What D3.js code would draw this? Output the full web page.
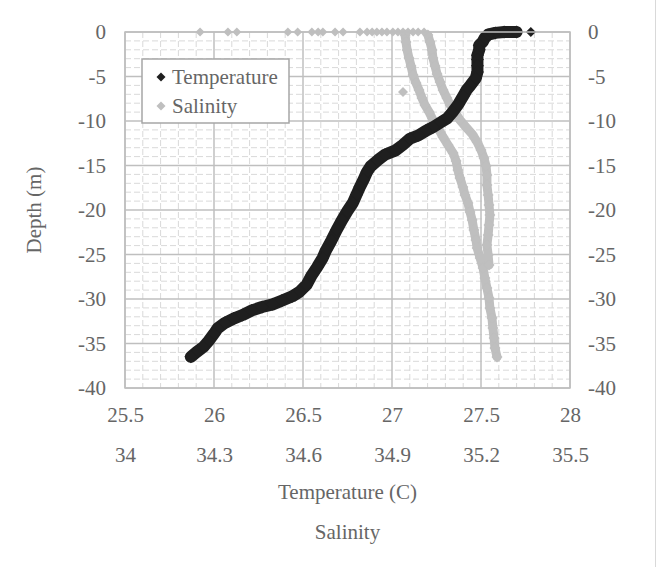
<!DOCTYPE html>
<html><head><meta charset="utf-8">
<script src="https://cdn.jsdelivr.net/npm/d3@7"></script>
<style>
html,body{margin:0;padding:0;background:#fff;}
text{font-family:"Liberation Serif","Times New Roman",serif;fill:#666;}
</style></head>
<body>
<svg id="c" width="664" height="567"></svg>
<script>
// ---- data ----
const tempTicks = [25.5, 26, 26.5, 27, 27.5, 28];
const salTicks = [34, 34.3, 34.6, 34.9, 35.2, 35.5];
const depthTicks = [0, -5, -10, -15, -20, -25, -30, -35, -40];

// temperature profile (C) and depth (m)
const tempValue = [27.70,27.63,27.58,27.54,27.52,27.51,27.49,27.49,27.48,27.48,27.48,27.48,27.47,27.44,27.42,27.40,27.37,27.34,27.31,27.27,27.23,27.19,27.15,27.10,27.06,27.02,26.96,26.92,26.88,26.86,26.84,26.82,26.80,26.78,26.75,26.72,26.69,26.66,26.63,26.61,26.58,26.55,26.52,26.48,26.44,26.38,26.33,26.27,26.21,26.16,26.11,26.06,26.02,26.00,25.97,25.94,25.90,25.87];
const tempDepth = [0,0,-0.1,-0.3,-0.7,-1.1,-1.5,-2.0,-2.6,-3.1,-3.8,-4.5,-5.2,-6.0,-6.5,-7.2,-8.2,-9.0,-9.7,-10.2,-10.7,-11.1,-11.6,-12.0,-12.7,-13.3,-13.8,-14.4,-15.1,-15.7,-16.6,-17.4,-18.3,-19.2,-20.1,-21.1,-22.2,-23.4,-24.5,-25.4,-26.4,-27.3,-28.4,-29.2,-29.7,-30.2,-30.6,-30.9,-31.3,-31.8,-32.2,-32.7,-33.3,-33.9,-34.7,-35.4,-36.0,-36.5];
const tempSpotValue = [27.78];
const tempSpotDepth = [0];

// salinity: two passes of the cast
const salValueA = [34.944,34.947,34.951,34.957,34.964,34.971,34.981,34.991,35.001,35.011,35.025,35.038,35.055,35.072,35.089,35.106,35.116,35.122,35.129,35.139,35.146,35.156,35.163,35.170,35.176,35.183,35.187,35.197,35.207,35.213,35.220,35.227,35.230,35.237,35.240,35.244,35.247,35.254];
const salDepthA = [-0.34,-1.12,-2.02,-2.92,-3.82,-4.83,-5.73,-6.52,-7.42,-8.20,-8.99,-9.89,-10.79,-11.80,-12.70,-13.60,-14.49,-15.51,-16.40,-17.42,-18.31,-19.21,-20.22,-21.12,-22.25,-23.37,-24.27,-25.39,-26.52,-27.64,-28.76,-29.89,-31.01,-32.13,-33.26,-34.38,-35.51,-36.52];
const salValueB = [35.021,35.028,35.035,35.038,35.045,35.052,35.062,35.072,35.085,35.096,35.112,35.129,35.149,35.170,35.187,35.200,35.210,35.217,35.220,35.220,35.224,35.227,35.230,35.227,35.224,35.220,35.224,35.227];
const salDepthB = [-0.34,-1.12,-2.02,-2.92,-3.82,-4.72,-5.62,-6.52,-7.42,-8.20,-8.99,-9.89,-10.67,-11.46,-12.36,-13.26,-14.16,-15.06,-16.07,-17.19,-18.31,-19.44,-20.56,-21.69,-22.81,-23.93,-25.06,-26.18];
const salSurfaceValue = [34.253,34.347,34.377,34.549,34.582,34.630,34.651,34.667,34.708,34.735,34.792,34.816,34.833,34.849,34.866,34.883,34.903,34.920,34.937,34.954,34.971,34.988,35.008];
const salSurfaceDepth = salSurfaceValue.map(() => 0);
const salSpotValue = [34.937];
const salSpotDepth = [-6.74];

// ---- layout ----
const svg = d3.select("#c");
const L = 125, R = 570, T = 32, B = 388;
const x = d3.scaleLinear().domain([25.5, 28]).range([L, R]);
const xs = d3.scaleLinear().domain([34, 35.5]).range([L, R]);
const y = d3.scaleLinear().domain([-40, 0]).range([B, T]);
const BLACK = "#1f1f1f", GRAY = "#bfbfbf";
const FS = "21px";

// chart-area border (right edge visible)
svg.append("line").attr("x1", 655.5).attr("x2", 655.5).attr("y1", 0).attr("y2", 567)
  .attr("stroke", "#d9d9d9").attr("stroke-width", 1);

// minor grid
const g = svg.append("g");
const minorX = d3.range(255, 281).map(v => v / 10).filter(v => Math.round(v * 10) % 5 !== 0);
const minorY = d3.range(-40, 1).filter(v => v % 5 !== 0);
g.selectAll(".mx").data(minorX).join("line")
  .attr("x1", d => x(d)).attr("x2", d => x(d)).attr("y1", T).attr("y2", B)
  .attr("stroke", "#d9d9d9").attr("stroke-width", 1).attr("stroke-dasharray", "6,3");
g.selectAll(".my").data(minorY).join("line")
  .attr("x1", L).attr("x2", R).attr("y1", d => y(d)).attr("y2", d => y(d))
  .attr("stroke", "#d9d9d9").attr("stroke-width", 1).attr("stroke-dasharray", "6,3");
// major grid
g.selectAll(".Mx").data(tempTicks).join("line")
  .attr("x1", d => x(d)).attr("x2", d => x(d)).attr("y1", T).attr("y2", B)
  .attr("stroke", "#bfbfbf").attr("stroke-width", 1.5);
g.selectAll(".My").data(depthTicks).join("line")
  .attr("x1", L).attr("x2", R).attr("y1", d => y(d)).attr("y2", d => y(d))
  .attr("stroke", "#bfbfbf").attr("stroke-width", 1.5);

// axes
function styleAxis(sel) {
  sel.select(".domain").remove();
  sel.selectAll("text").style("font-family", '"Liberation Serif",serif').style("font-size", FS).attr("fill", "#666");
}
svg.append("g").attr("transform", `translate(0,${B})`)
  .call(d3.axisBottom(x).tickValues(tempTicks).tickSize(0).tickPadding(19).tickFormat(d => String(d)))
  .call(styleAxis);
svg.append("g").attr("transform", `translate(0,${B + 39})`)
  .call(d3.axisBottom(xs).tickValues(salTicks).tickSize(0).tickPadding(20).tickFormat(d => String(d)))
  .call(styleAxis);
svg.append("g").attr("transform", `translate(${L},0)`)
  .call(d3.axisLeft(y).tickValues(depthTicks).tickSize(0).tickPadding(19).tickFormat(d => String(d)))
  .call(styleAxis);
svg.append("g").attr("transform", `translate(${R},0)`)
  .call(d3.axisRight(y).tickValues(depthTicks).tickSize(0).tickPadding(18).tickFormat(d => String(d)))
  .call(styleAxis);

// titles
svg.append("text").attr("x", (L + R) / 2).attr("y", 499).attr("text-anchor", "middle")
  .style("font-size", FS).text("Temperature (C)");
svg.append("text").attr("x", (L + R) / 2).attr("y", 539).attr("text-anchor", "middle")
  .style("font-size", FS).text("Salinity");
svg.append("text").attr("transform", `translate(41,210) rotate(-90)`).attr("text-anchor", "middle")
  .style("font-size", FS).text("Depth (m)");

// marks
const diamond = r => `M0,${-r}L${r},0L0,${r}L${-r},0Z`;
function band(xv, dv, sx, color, w) {
  const pts = xv.map((v, i) => [sx(v), y(dv[i])]);
  svg.append("path").attr("d", d3.line()(pts)).attr("fill", "none")
    .attr("stroke", color).attr("stroke-width", w).attr("stroke-linejoin", "round").attr("stroke-linecap", "round");
}
function markers(xv, dv, sx, color, r) {
  svg.append("g").selectAll("path").data(xv.map((v, i) => [v, dv[i]])).join("path")
    .attr("transform", d => `translate(${sx(d[0])},${y(d[1])})`)
    .attr("d", diamond(r)).attr("fill", color);
}
// salinity first (drawn under temperature)
band(salValueA, salDepthA, xs, GRAY, 9);
band(salValueB, salDepthB, xs, GRAY, 9);
markers(salValueA, salDepthA, xs, GRAY, 5.5);
markers(salValueB, salDepthB, xs, GRAY, 5.5);
markers(salSurfaceValue, salSurfaceDepth, xs, GRAY, 4.5);
markers(salSpotValue, salSpotDepth, xs, GRAY, 5);

band(tempValue, tempDepth, x, BLACK, 12);
markers(tempValue, tempDepth, x, BLACK, 6.5);
markers(tempSpotValue, tempSpotDepth, x, BLACK, 5);

// plot border
svg.append("rect").attr("x", L).attr("y", T).attr("width", R - L).attr("height", B - T)
  .attr("fill", "none").attr("stroke", "#bfbfbf").attr("stroke-width", 1.5);

// legend
const lg = svg.append("g");
lg.append("rect").attr("x", 142).attr("y", 59).attr("width", 147).attr("height", 64)
  .attr("fill", "#fff").attr("stroke", "#a6a6a6").attr("stroke-width", 1.5);
const legendItems = [["Temperature", BLACK], ["Salinity", GRAY]];
legendItems.forEach((it, i) => {
  lg.append("path").attr("transform", `translate(161,${77 + i * 29})`).attr("d", diamond(4.5)).attr("fill", it[1]);
  lg.append("text").attr("x", 172).attr("y", 84 + i * 29).style("font-size", FS).text(it[0]);
});
</script>
</body></html>
